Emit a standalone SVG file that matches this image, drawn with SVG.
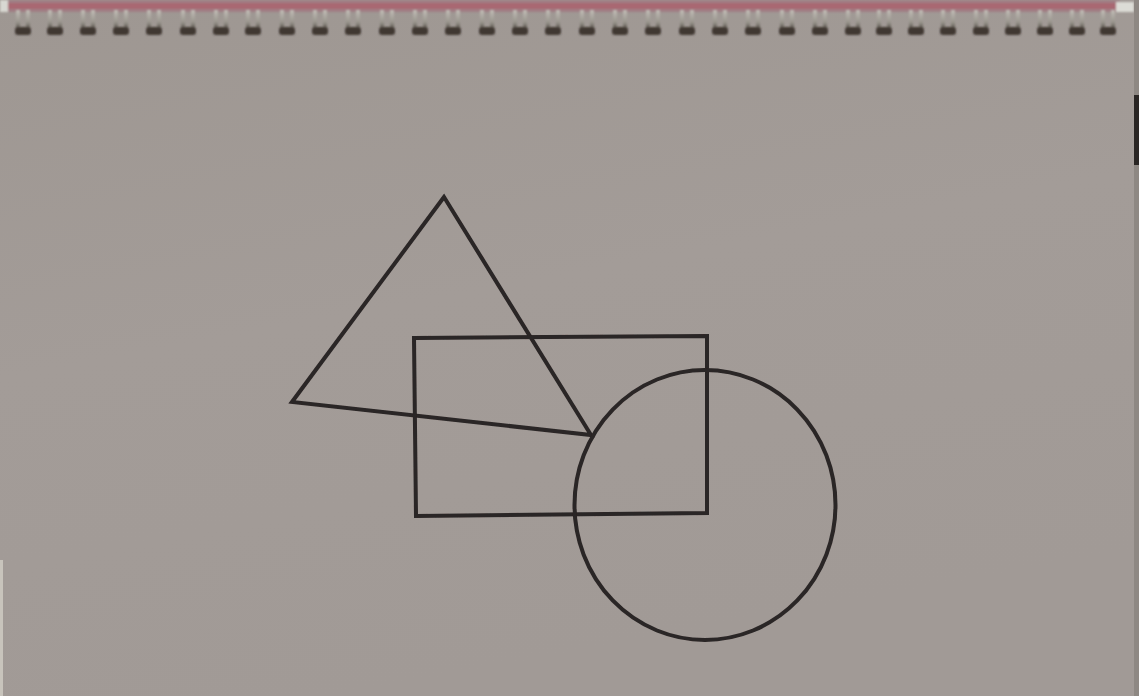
<svg xmlns="http://www.w3.org/2000/svg" width="1139" height="696" viewBox="0 0 1139 696">
  <defs>
    <linearGradient id="paper" x1="0" y1="0" x2="0.3" y2="1">
      <stop offset="0" stop-color="#9e9792"/>
      <stop offset="0.5" stop-color="#a39c98"/>
      <stop offset="1" stop-color="#a19a96"/>
    </linearGradient>
    <linearGradient id="coil" x1="0" y1="0" x2="0" y2="1">
      <stop offset="0" stop-color="#c2bdb6"/>
      <stop offset="0.6" stop-color="#9a968e"/>
      <stop offset="1" stop-color="#4a443e"/>
    </linearGradient>
    <filter id="soft" x="-5%" y="-50%" width="110%" height="200%">
      <feGaussianBlur stdDeviation="1"/>
    </filter>
    <filter id="soft2" x="-2%" y="-2%" width="104%" height="104%">
      <feGaussianBlur stdDeviation="0.6"/>
    </filter>
    <g id="c">
      <rect x="-7" y="10" width="4" height="20" fill="url(#coil)"/>
      <rect x="3" y="10" width="4" height="20" fill="url(#coil)"/>
      <rect x="-8" y="27" width="16" height="8" rx="3" fill="#3f3833"/>
    </g>
  </defs>
  <style>
    .ln { fill: none; stroke: #2a2525; stroke-width: 4; stroke-linejoin: miter; }
  </style>
  <rect width="1139" height="696" fill="url(#paper)"/>
  <g filter="url(#soft)">
    <rect x="0" y="0" width="1120" height="12" fill="#a07e84"/>
    <rect x="0" y="3" width="1120" height="6" fill="#b2525f" opacity="0.5"/>
    <rect x="0" y="0" width="8" height="12" fill="#d8d8d2"/>
    <rect x="1116" y="2" width="18" height="10" fill="#dcdcd6"/>
  </g>
  <rect x="1134" y="0" width="5" height="696" fill="#8e8883"/>
  <rect x="1134" y="95" width="5" height="70" fill="#2a2624"/>
  <rect x="0" y="560" width="3" height="136" fill="#c8c4bc"/>
  <g id="spiral" filter="url(#soft)">
    <use href="#c" x="23"/><use href="#c" x="55"/><use href="#c" x="88"/><use href="#c" x="121"/>
    <use href="#c" x="154"/><use href="#c" x="188"/><use href="#c" x="221"/><use href="#c" x="253"/>
    <use href="#c" x="287"/><use href="#c" x="320"/><use href="#c" x="353"/><use href="#c" x="387"/>
    <use href="#c" x="420"/><use href="#c" x="453"/><use href="#c" x="487"/><use href="#c" x="520"/>
    <use href="#c" x="553"/><use href="#c" x="587"/><use href="#c" x="620"/><use href="#c" x="653"/>
    <use href="#c" x="687"/><use href="#c" x="720"/><use href="#c" x="753"/><use href="#c" x="787"/>
    <use href="#c" x="820"/><use href="#c" x="853"/><use href="#c" x="884"/><use href="#c" x="916"/>
    <use href="#c" x="948"/><use href="#c" x="981"/><use href="#c" x="1013"/><use href="#c" x="1045"/>
    <use href="#c" x="1077"/><use href="#c" x="1108"/>
  </g>
  <g filter="url(#soft2)">
    <g id="triangle">
      <polygon class="ln" points="444,197 292,402 591,435"/>
    </g>
    <g id="rectangle">
      <polygon class="ln" points="414,338 707,336 707,513 416,516"/>
    </g>
    <g id="circle">
      <ellipse class="ln" cx="705" cy="505" rx="130.5" ry="135" stroke-width="3.5"/>
    </g>
  </g>
</svg>
